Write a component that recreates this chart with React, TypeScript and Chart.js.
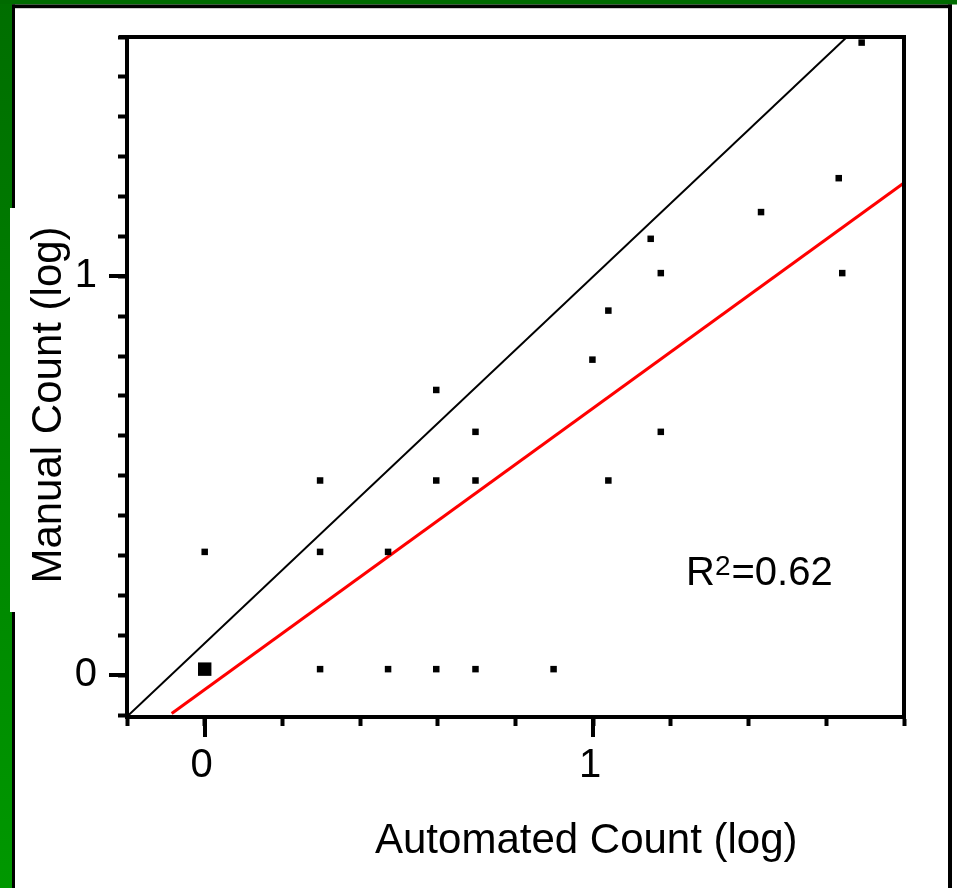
import React, { useEffect, useRef } from 'react';
import { Chart, registerables } from 'chart.js';

Chart.register(...registerables);

// ---- data (log10 counts) ----
const automatedLog = [0, 0.297, 0.297, 0.297, 0.472, 0.472, 0.596, 0.596, 0.596, 0.697, 0.697, 0.697, 0.898, 0.998, 1.039, 1.039, 1.148, 1.174, 1.174, 1.432, 1.632, 1.641, 1.691];
const manualLog = [0.309, 0.488, 0.309, 0.015, 0.309, 0.015, 0.715, 0.488, 0.015, 0.61, 0.488, 0.015, 0.015, 0.791, 0.914, 0.488, 1.094, 1.008, 0.61, 1.161, 1.246, 1.008, 1.586];
const originClusterX = [0];
const originClusterY = [0.015];
const identityX = [-0.2, 1.653];
const identityY = [-0.104, 1.6];
const fitX = [-0.085, 1.797];
const fitY = [-0.096, 1.232];
const xTickValues = [-0.2, 0, 0.2, 0.4, 0.6, 0.8, 1, 1.2, 1.4, 1.6, 1.8];
const yTickValues = [-0.1, 0, 0.1, 0.2, 0.3, 0.4, 0.5, 0.6, 0.7, 0.8, 0.9, 1, 1.1, 1.2, 1.3, 1.4, 1.5, 1.6];
const majorTicks = [0, 1];
const xTitle = 'Automated Count (log)';
const yTitle = 'Manual Count (log)';
const r2Base = 'R';
const r2Sup = '2';
const r2Value = '=0.62';

const FAMILY = "'Liberation Sans', Arial, sans-serif";

const zip = (xs: number[], ys: number[]) => xs.map((x, i) => ({ x, y: ys[i] }));

const decorPlugin = {
  id: 'decor',
  beforeDraw(chart: any) {
    const ctx = chart.ctx as CanvasRenderingContext2D;
    const W = chart.width;
    const H = chart.height;
    ctx.save();
    ctx.fillStyle = '#ffffff';
    ctx.fillRect(0, 0, W, H);
    ctx.fillStyle = '#006b00';
    ctx.fillRect(0, 0, W, 4.5);
    const g = ctx.createLinearGradient(0, 0, 0, H);
    g.addColorStop(0, '#006e00');
    g.addColorStop(1, '#009800');
    ctx.fillStyle = g;
    ctx.fillRect(0, 4, 12, H);
    ctx.fillStyle = '#000000';
    ctx.fillRect(12, 4.5, 940, 3.7);
    ctx.fillRect(12, 4.5, 3, H);
    ctx.fillRect(948, 4.5, 4, H);
    ctx.fillStyle = '#ffffff';
    ctx.fillRect(10, 208, 72, 404);
    ctx.restore();
  },
  afterDraw(chart: any) {
    const ctx = chart.ctx as CanvasRenderingContext2D;
    const { left, right, top, bottom } = chart.chartArea;
    const xs = chart.scales.x;
    const ys = chart.scales.y;
    ctx.save();
    ctx.strokeStyle = '#000000';
    ctx.lineWidth = 4;
    ctx.lineCap = 'butt';
    ctx.beginPath();
    ctx.moveTo(left - 8, top);
    ctx.lineTo(right + 2, top);
    ctx.moveTo(right, top);
    ctx.lineTo(right, bottom + 2);
    ctx.stroke();
    ctx.beginPath();
    majorTicks.forEach((v) => {
      const px = Math.round(xs.getPixelForValue(v));
      ctx.moveTo(px, bottom);
      ctx.lineTo(px, bottom + 20);
      const py = Math.round(ys.getPixelForValue(v));
      ctx.moveTo(left, py);
      ctx.lineTo(left - 18, py);
    });
    ctx.stroke();

    ctx.fillStyle = '#000000';
    ctx.font = `42px ${FAMILY}`;
    ctx.textAlign = 'left';
    ctx.textBaseline = 'alphabetic';
    ctx.fillText(xTitle, 375, 853);
    ctx.save();
    ctx.translate(61, 405);
    ctx.rotate(-Math.PI / 2);
    ctx.textAlign = 'center';
    ctx.fillText(yTitle, 0, 0);
    ctx.restore();
    ctx.textAlign = 'left';
    ctx.font = `40px ${FAMILY}`;
    let x = 686;
    ctx.fillText(r2Base, x, 585);
    x += ctx.measureText(r2Base).width;
    ctx.font = `28px ${FAMILY}`;
    ctx.fillText(r2Sup, x, 575);
    x += ctx.measureText(r2Sup).width + 1;
    ctx.font = `40px ${FAMILY}`;
    ctx.fillText(r2Value, x, 585);
    ctx.restore();
  },
};

const zeroPad = (s: any) => {
  s.paddingTop = 0;
  s.paddingBottom = 0;
  s.paddingLeft = 0;
  s.paddingRight = 0;
};

export default function App() {
  const ref = useRef<HTMLCanvasElement | null>(null);

  useEffect(() => {
    const canvas = ref.current;
    if (!canvas) return;
    const tickFont = { family: FAMILY, size: 40 };
    const chart = new Chart(canvas, {
      type: 'scatter',
      data: {
        datasets: [
          {
            label: 'samples',
            data: zip(automatedLog, manualLog),
            pointStyle: 'rect',
            pointRadius: 4.6,
            pointHoverRadius: 4.6,
            backgroundColor: '#000000',
            borderWidth: 0,
          },
          {
            label: 'origin cluster',
            data: zip(originClusterX, originClusterY),
            pointStyle: 'rect',
            pointRadius: 9.5,
            pointHoverRadius: 9.5,
            backgroundColor: '#000000',
            borderWidth: 0,
          },
          {
            label: 'fit',
            data: zip(fitX, fitY),
            showLine: true,
            borderColor: '#ff0000',
            borderWidth: 3,
            pointRadius: 0,
            pointHoverRadius: 0,
          },
          {
            label: 'identity',
            data: zip(identityX, identityY),
            showLine: true,
            borderColor: '#000000',
            borderWidth: 2,
            pointRadius: 0,
            pointHoverRadius: 0,
          },
        ],
      },
      options: {
        responsive: false,
        maintainAspectRatio: false,
        animation: false,
        devicePixelRatio: 1,
        events: [],
        layout: { padding: { left: 0, right: 53, top: 37, bottom: 0 } },
        plugins: { legend: { display: false }, tooltip: { enabled: false }, title: { display: false } },
        scales: {
          x: {
            type: 'linear',
            position: 'bottom',
            min: -0.2,
            max: 1.8,
            afterBuildTicks: (s: any) => {
              s.ticks = xTickValues.map((v) => ({ value: v }));
            },
            afterFit: (s: any) => {
              s.height = 171;
              zeroPad(s);
            },
            ticks: {
              autoSkip: false,
              maxRotation: 0,
              minRotation: 0,
              padding: 16,
              labelOffset: -3,
              color: '#000000',
              font: tickFont,
              callback: (v: any) => (majorTicks.includes(Number(v)) ? String(v) : ''),
            },
            grid: { display: true, drawOnChartArea: false, drawTicks: true, tickLength: 9, tickWidth: 4, tickColor: '#000000' },
            border: { display: true, color: '#000000', width: 4 },
          },
          y: {
            type: 'linear',
            position: 'left',
            min: -0.105,
            max: 1.6,
            afterBuildTicks: (s: any) => {
              s.ticks = yTickValues.map((v) => ({ value: v }));
            },
            afterFit: (s: any) => {
              s.width = 127;
              zeroPad(s);
            },
            ticks: {
              autoSkip: false,
              padding: 21,
              labelOffset: 0,
              color: '#000000',
              font: tickFont,
              callback: (v: any) => (majorTicks.includes(Number(v)) ? String(v) : ''),
            },
            grid: { display: true, drawOnChartArea: false, drawTicks: true, tickLength: 9, tickWidth: 4, tickColor: '#000000' },
            border: { display: true, color: '#000000', width: 4 },
          },
        },
      },
      plugins: [decorPlugin],
    } as any);
    return () => chart.destroy();
  }, []);

  return (
    <div style={{ position: 'fixed', left: 0, top: 0, width: 957, height: 888, background: '#ffffff' }}>
      <canvas ref={ref} width={957} height={888} style={{ display: 'block', width: 957, height: 888 }} />
    </div>
  );
}
